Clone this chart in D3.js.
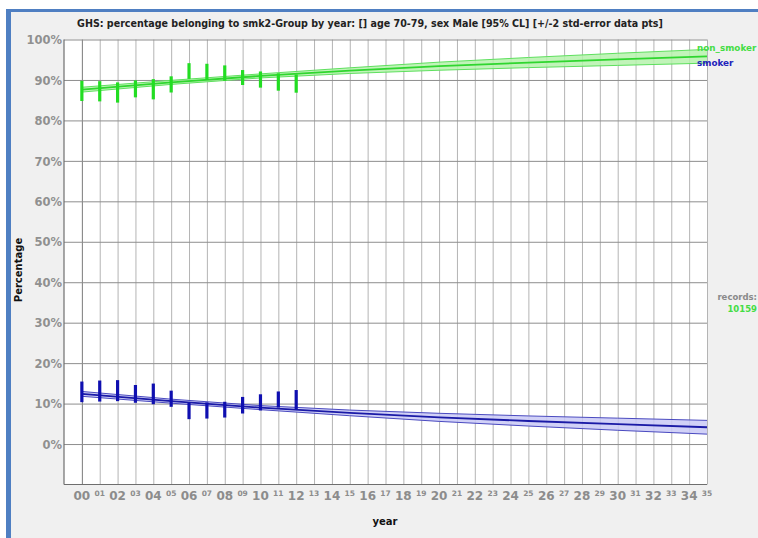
<!DOCTYPE html>
<html>
<head>
<meta charset="utf-8">
<script src="https://cdn.jsdelivr.net/npm/d3@7"></script>
<style>
  html, body { margin: 0; padding: 0; background: #ffffff; }
  svg { display: block; }
</style>
</head>
<body>
<svg id="chart" width="758" height="538"></svg>
<script>
// ---- data ---------------------------------------------------------------
const years = d3.range(0, 36);
const yearLabels = years.map(y => String(y).padStart(2, "0"));
const pctTicks = [0, 10, 20, 30, 40, 50, 60, 70, 80, 90, 100];
const pctLabels = pctTicks.map(v => v + "%");

// observed survey years with +/-2 std-error
const obsYears = [0, 1, 2, 3, 4, 5, 6, 7, 8, 9, 10, 11, 12];
const nonSmokerObs = [87.3, 87.2, 86.9, 87.8, 87.7, 88.9, 92.2, 92.0, 91.7, 90.6, 90.1, 89.5, 89.1];
const nonSmokerErr = [2.5, 2.5, 2.5, 2.1, 2.5, 2.0, 1.95, 2.0, 1.9, 1.85, 2.0, 2.15, 2.25];
const smokerObs = [12.9, 13.1, 13.2, 12.4, 12.4, 11.2, 8.2, 8.3, 8.5, 9.6, 10.3, 11.0, 11.0];
const smokerErr = [2.55, 2.6, 2.6, 2.2, 2.55, 2.0, 2.05, 2.0, 1.95, 2.05, 2.0, 2.0, 2.35];

// fitted trend with 95% confidence limits
const trendYears = [0, 5, 10, 15, 20, 25, 30, 35];
const nonSmokerTrend = [87.6, 89.4, 91.0, 92.3, 93.4, 94.3, 95.1, 95.85];
const nonSmokerLo    = [87.0, 88.9, 90.5, 91.6, 92.4, 93.05, 93.6, 94.15];
const nonSmokerHi    = [88.2, 89.9, 91.5, 93.0, 94.4, 95.55, 96.6, 97.55];
const smokerTrend = [12.4, 10.6, 9.0, 7.7, 6.6, 5.7, 4.9, 4.15];
const smokerLo    = [11.8, 10.1, 8.5, 7.0, 5.6, 4.45, 3.4, 2.45];
const smokerHi    = [13.0, 11.1, 9.5, 8.4, 7.6, 6.95, 6.4, 5.85];

const seriesNames = ["non_smoker", "smoker"];
const recordCount = "10159";

// ---- layout -------------------------------------------------------------
const svg = d3.select("#chart");
const plot = { left: 64, right: 707, top: 39.5, bottom: 484.5 };

const x = d3.scaleLinear().domain([-1, 35]).range([plot.left, plot.right]);
const y = d3.scaleLinear().domain([-10, 100]).range([plot.bottom, plot.top]);

const green = { line: "#2fd62f", edge: "#5fe05f", fill: "#b6f2ad", bar: "#22dd22", text: "#44dd44" };
const blue  = { line: "#1a1aa6", edge: "#4a4ac0", fill: "#c9c9f6", bar: "#0f0fb0", text: "#2222bb" };

// window frame
svg.append("rect").attr("x", 6).attr("y", 9).attr("width", 752).attr("height", 529).attr("fill", "#f0f0f0");
svg.append("rect").attr("x", 6).attr("y", 9).attr("width", 752).attr("height", 3).attr("fill", "#4f7fc2");
svg.append("rect").attr("x", 6).attr("y", 9).attr("width", 5).attr("height", 529).attr("fill", "#4f7fc2");

// plot background
svg.append("rect")
  .attr("x", plot.left).attr("y", plot.top)
  .attr("width", plot.right - plot.left).attr("height", plot.bottom - plot.top)
  .attr("fill", "#ffffff");

// vertical grid + year labels
const xAxis = svg.append("g")
  .attr("transform", `translate(0,${plot.bottom})`)
  .call(d3.axisBottom(x).tickValues(years).tickSize(-(plot.bottom - plot.top)).tickFormat(""));
xAxis.select(".domain").remove();
xAxis.selectAll(".tick line")
  .attr("stroke", (d) => d === 0 ? "#7a7a7a" : "#b4b4b4")
  .attr("stroke-width", 1);

svg.append("g").selectAll("text")
  .data(years)
  .join("text")
  .attr("x", d => x(d))
  .attr("y", d => d % 2 === 0 ? 500 : 495.5)
  .attr("text-anchor", "middle")
  .attr("font-family", "DejaVu Sans, Verdana, sans-serif")
  .attr("font-weight", "bold")
  .attr("font-size", d => d % 2 === 0 ? 12 : 7.5)
  .attr("fill", "#8c8c8c")
  .text((d, i) => yearLabels[i]);

// horizontal grid + percentage labels
const yAxis = svg.append("g")
  .attr("transform", `translate(${plot.left},0)`)
  .call(d3.axisLeft(y).tickValues(pctTicks).tickSize(-(plot.right - plot.left)).tickFormat((d, i) => pctLabels[i]));
yAxis.select(".domain").remove();
yAxis.selectAll(".tick line").attr("stroke", "#8e8e8e").attr("stroke-width", 1);
yAxis.selectAll(".tick text")
  .attr("x", -2)
  .attr("dy", "0.36em")
  .attr("font-family", "DejaVu Sans, Verdana, sans-serif")
  .attr("font-weight", "bold")
  .attr("font-size", 11.5)
  .attr("fill", "#909090");

// axis lines
svg.append("line")
  .attr("x1", plot.left).attr("x2", plot.left)
  .attr("y1", plot.top).attr("y2", plot.bottom)
  .attr("stroke", "#6e6e6e").attr("stroke-width", 1.2);
svg.append("line")
  .attr("x1", plot.left).attr("x2", plot.right)
  .attr("y1", plot.bottom).attr("y2", plot.bottom)
  .attr("stroke", "#6e6e6e").attr("stroke-width", 1.2);

// trend bands
function drawTrend(center, lo, hi, col) {
  const pts = trendYears.map((t, i) => ({ t, c: center[i], lo: lo[i], hi: hi[i] }));
  const g = svg.append("g");
  g.append("path")
    .datum(pts)
    .attr("d", d3.area().x(d => x(d.t)).y0(d => y(d.lo)).y1(d => y(d.hi)))
    .attr("fill", col.fill).attr("fill-opacity", 0.85);
  ["lo", "hi"].forEach(k => {
    g.append("path")
      .datum(pts)
      .attr("d", d3.line().x(d => x(d.t)).y(d => y(d[k])))
      .attr("fill", "none").attr("stroke", col.edge).attr("stroke-width", 1);
  });
  g.append("path")
    .datum(pts)
    .attr("d", d3.line().x(d => x(d.t)).y(d => y(d.c)))
    .attr("fill", "none").attr("stroke", col.line).attr("stroke-width", 1.8);
}
drawTrend(nonSmokerTrend, nonSmokerLo, nonSmokerHi, green);
drawTrend(smokerTrend, smokerLo, smokerHi, blue);

// observed points as +/-2 s.e. bars
function drawBars(vals, errs, col) {
  svg.append("g").selectAll("line")
    .data(obsYears.map((t, i) => ({ t, v: vals[i], e: errs[i] })))
    .join("line")
    .attr("x1", d => x(d.t)).attr("x2", d => x(d.t))
    .attr("y1", d => y(d.v - d.e)).attr("y2", d => y(d.v + d.e))
    .attr("stroke", col.bar).attr("stroke-width", 3.2);
}
drawBars(nonSmokerObs, nonSmokerErr, green);
drawBars(smokerObs, smokerErr, blue);

// title
svg.append("text")
  .attr("x", 370).attr("y", 27)
  .attr("text-anchor", "middle")
  .attr("font-family", "DejaVu Sans Condensed, DejaVu Sans, sans-serif")
  .attr("font-weight", "bold")
  .attr("font-size", 10.6)
  .attr("fill", "#222")
  .text("GHS: percentage belonging to smk2-Group by year: []  age 70-79, sex Male  [95% CL] [+/-2 std-error data pts]");

// series labels at the right end of the trends
svg.append("text")
  .attr("x", 697).attr("y", 51)
  .attr("font-family", "DejaVu Sans, Verdana, sans-serif")
  .attr("font-weight", "bold").attr("font-size", 8.8)
  .attr("fill", green.text).text(seriesNames[0]);
svg.append("text")
  .attr("x", 697).attr("y", 66)
  .attr("font-family", "DejaVu Sans, Verdana, sans-serif")
  .attr("font-weight", "bold").attr("font-size", 8.8)
  .attr("fill", blue.text).text(seriesNames[1]);

// record count
svg.append("text")
  .attr("x", 757).attr("y", 300).attr("text-anchor", "end")
  .attr("font-family", "DejaVu Sans, Verdana, sans-serif")
  .attr("font-weight", "bold").attr("font-size", 8.5)
  .attr("fill", "#8a8a8a").text("records:");
svg.append("text")
  .attr("x", 757).attr("y", 312).attr("text-anchor", "end")
  .attr("font-family", "DejaVu Sans, Verdana, sans-serif")
  .attr("font-weight", "bold").attr("font-size", 8.5)
  .attr("fill", "#44dd44").text(recordCount);

// axis titles
svg.append("text")
  .attr("transform", "translate(22,270) rotate(-90)")
  .attr("text-anchor", "middle")
  .attr("font-family", "DejaVu Sans, Verdana, sans-serif")
  .attr("font-weight", "bold").attr("font-size", 10)
  .attr("fill", "#111").text("Percentage");
svg.append("text")
  .attr("x", 385).attr("y", 525)
  .attr("text-anchor", "middle")
  .attr("font-family", "DejaVu Sans, Verdana, sans-serif")
  .attr("font-weight", "bold").attr("font-size", 10)
  .attr("fill", "#111").text("year");
</script>
</body>
</html>
